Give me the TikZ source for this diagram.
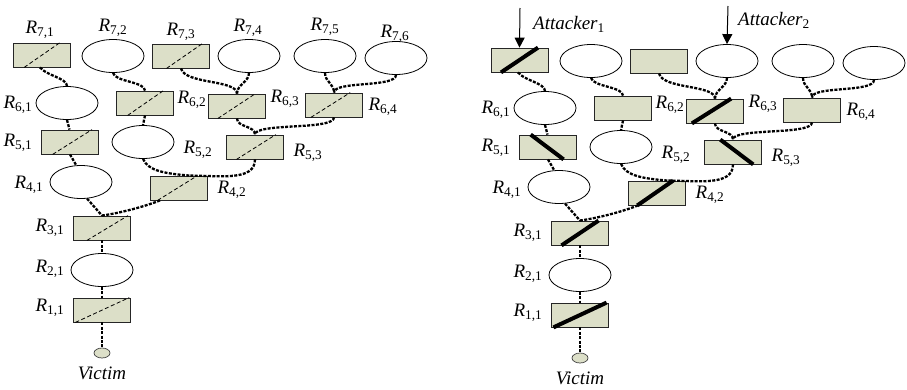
\documentclass[tikz,border=0pt]{standalone}
\usepackage{fontspec}
\setmainfont{Liberation Serif}
\usetikzlibrary{calc,arrows.meta,shapes.geometric}
\definecolor{boxfill}{HTML}{DCDFC8}
\tikzset{
 box/.style={draw=black!85, fill=boxfill, minimum width=57pt, minimum height=24pt, inner sep=0pt, line width=0.8pt},
 oval/.style={draw=black, fill=white, ellipse, minimum width=62pt, minimum height=33pt, inner sep=0pt, line width=0.8pt},
 vdot/.style={draw=black!75, fill=boxfill, ellipse, minimum width=16pt, minimum height=10pt, inner sep=0pt, line width=0.7pt},
 conn/.style={line width=2.3pt, dash pattern=on 3pt off 1.4pt},
 lab/.style={font=\fontsize{19}{19}\selectfont\itshape, inner sep=0pt},
 thindiag/.style={line width=0.8pt, dash pattern=on 4pt off 2.5pt},
 cutbar/.style={line width=4pt},
}
\newcommand\Rl[1]{R\textsubscript{\upshape #1}}
\newcommand\cutline[4]{\draw[#1] ($(#2.south west)!#3!(#2.south east)$) -- ($(#2.north west)!#4!(#2.north east)$);}
\newcommand\drawtree[1]{%
 \node[box] (#1r71) at (41.5,55) {};
 \node[oval] (#1r72) at (113,56) {};
 \node[box] (#1r73) at (181,56) {};
 \node[oval] (#1r74) at (249,56) {};
 \node[oval] (#1r75) at (325,56) {};
 \node[oval] (#1r76) at (396,58) {};
 \node[oval] (#1r61) at (67,103) {};
 \node[box] (#1r62) at (145,103) {};
 \node[box] (#1r63) at (237,106) {};
 \node[box] (#1r64) at (334,105) {};
 \node[box] (#1r51) at (70,142) {};
 \node[oval] (#1r52) at (143,142) {};
 \node[box] (#1r53) at (255,147) {};
 \node[oval] (#1r41) at (81,182) {};
 \node[box] (#1r42) at (179,188) {};
 \node[box] (#1r31) at (102,228) {};
 \node[oval] (#1r21) at (102,270) {};
 \node[box] (#1r11) at (102,310) {};
 \node[vdot] (#1vic) at (102,353) {};
 \node[lab] (#1l61) at (18,105) {\Rl{6,1}};
 \node[lab] (#1l62) at (192,100) {\Rl{6,2}};
 \node[lab] (#1l63) at (285,99) {\Rl{6,3}};
 \node[lab] (#1l64) at (383,107) {\Rl{6,4}};
 \node[lab] (#1l51) at (18,143) {\Rl{5,1}};
 \node[lab] (#1l52) at (198,150) {\Rl{5,2}};
 \node[lab] (#1l53) at (308,153) {\Rl{5,3}};
 \node[lab] (#1l41) at (29,185) {\Rl{4,1}};
 \node[lab] (#1l42) at (232,190) {\Rl{4,2}};
 \node[lab] (#1l31) at (50,228) {\Rl{3,1}};
 \node[lab] (#1l21) at (50,269) {\Rl{2,1}};
 \node[lab] (#1l11) at (50,308) {\Rl{1,1}};
 \node[lab] (#1lvic) at (102,373) {Victim};
 \draw[conn] ([xshift=-1.5pt]#1r71.south) .. controls +(6,8) and +(0,-8) .. (#1r61.north);
 \draw[conn] (#1r72.south) .. controls +(2,9) and +(0,-9) .. (#1r62.north);
 \draw[conn] (#1r73.south) .. controls +(4,16) and +(0,-14) .. (#1r63.north);
 \draw[conn] (#1r74.south) .. controls +(0,9) and +(0,-9) .. (#1r63.north);
 \draw[conn] (#1r75.south) .. controls +(0,9) and +(0,-9) .. (#1r64.north);
 \draw[conn] (#1r76.south) .. controls +(0,13) and +(0,-12) .. (#1r64.north);
 \draw[conn] (#1r61.south) -- ([xshift=-0.5pt]#1r51.north);
 \draw[conn] (#1r51.south) -- (#1r41.106);
 \draw[conn] (#1r62.south) -- (#1r52.north);
 \draw[conn] (#1r63.south) .. controls +(0,9) and +(0,-9) .. (#1r53.north);
 \draw[conn] (#1r64.south) .. controls +(0,13) and +(0,-12) .. (#1r53.north);
 \draw[conn] (#1r53.south) .. controls +(0,22) and +(30,0) .. ([xshift=11pt]#1r42.north);
 \draw[conn] (#1r52.south) .. controls +(5,12) and +(-25,-2) .. ([xshift=11pt]#1r42.north);
 \draw[conn] (#1r41.-70) -- (#1r31.north);
 \draw[conn] ([xshift=-19pt]#1r42.south) .. controls +(-15,6) and +(20,-3) .. (#1r31.north);
 \draw[conn] (#1r31.south) -- (#1r21.north);
 \draw[conn] (#1r21.south) -- (#1r11.north);
 \draw[conn] (#1r11.south) -- (#1vic.north);
}
\begin{document}
\begin{tikzpicture}[x=1pt,y=-1pt]
\useasboundingbox[fill=white] (0,0) rectangle (907,389);
% left tree
\drawtree{a}
\node[lab] (al71) at (40,30) {\Rl{7,1}};
\node[lab] (al72) at (113,28) {\Rl{7,2}};
\node[lab] (al73) at (181,32) {\Rl{7,3}};
\node[lab] (al74) at (248,28) {\Rl{7,4}};
\node[lab] (al75) at (325,27) {\Rl{7,5}};
\node[lab] (al76) at (395,34) {\Rl{7,6}};
\cutline{thindiag}{ar71}{0.2}{0.82}
\cutline{thindiag}{ar73}{0.25}{0.87}
\cutline{thindiag}{ar62}{0.2}{0.82}
\cutline{thindiag}{ar63}{0.17}{0.82}
\cutline{thindiag}{ar64}{0.1}{0.78}
\cutline{thindiag}{ar51}{0.2}{0.88}
\cutline{thindiag}{ar53}{0.18}{0.86}
\cutline{thindiag}{ar42}{0.13}{0.82}
\cutline{thindiag}{ar31}{0.24}{0.95}
\cutline{thindiag}{ar11}{0.04}{0.97}
% right tree
\begin{scope}[shift={(478,5)}]
\drawtree{b}
\cutline{cutbar}{br71}{0.18}{0.82}
\cutline{cutbar}{br51}{0.77}{0.2}
\cutline{cutbar}{br63}{0.1}{0.78}
\cutline{cutbar}{br53}{0.85}{0.28}
\cutline{cutbar}{br42}{0.16}{0.78}
\cutline{cutbar}{br31}{0.18}{0.82}
\cutline{cutbar}{br11}{0.04}{0.96}
\end{scope}
\coordinate (a1top) at (520,8);
\coordinate (a2top) at (728,6);
\draw[line width=1pt, -{Triangle[length=10pt,width=10pt]}] (a1top) -- (br71.north);
\draw[line width=1pt, -{Triangle[length=10pt,width=10pt]}] (a2top) -- (br74.north);
\node[lab, anchor=west] (att1) at (533,24) {Attacker\textsubscript{\upshape 1}};
\node[lab, anchor=west] (att2) at (738,20) {Attacker\textsubscript{\upshape 2}};
\end{tikzpicture}
\end{document}
